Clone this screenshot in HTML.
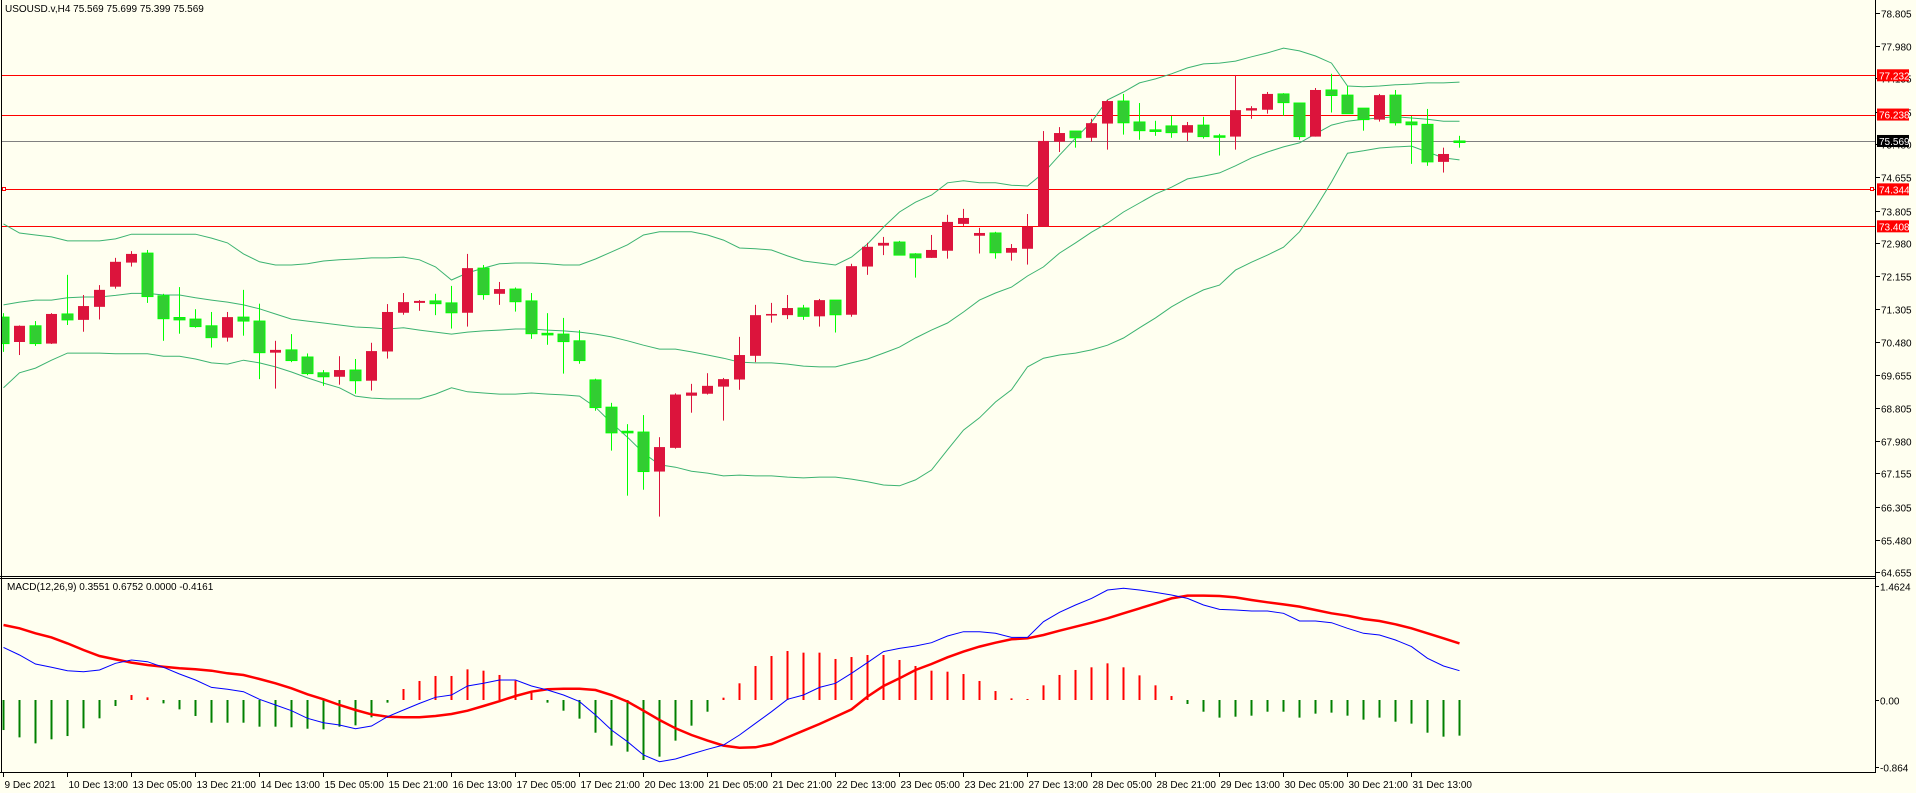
<!DOCTYPE html>
<html><head><meta charset="utf-8"><style>
html,body{margin:0;padding:0;background:#fffff0;}
svg{display:block;font-family:"Liberation Sans",sans-serif;}
</style></head><body>
<svg id="chart" width="1916" height="793" xmlns="http://www.w3.org/2000/svg">
<rect x="0" y="0" width="1916" height="793" fill="#fffff0"/>
<defs><clipPath id="mainClip"><rect x="2" y="0" width="1873" height="576"/></clipPath>
<clipPath id="macdClip"><rect x="2" y="578" width="1873" height="194"/></clipPath></defs>
<g id="mainPanel" clip-path="url(#mainClip)"></g>
<g id="macdPanel" clip-path="url(#macdClip)"></g>
<g id="axes"></g>
<text x="5" y="12" font-size="10" fill="#000">USOUSD.v,H4  75.569 75.699 75.399 75.569</text>
<text x="7" y="590" font-size="10" fill="#000">MACD(12,26,9) 0.3551 0.6752 0.0000 -0.4161</text>
</svg>
<script>
const opens=[71.11,70.48,70.89,70.44,71.19,71.04,71.37,71.88,72.49,72.73,71.65,71.10,71.06,70.89,70.59,71.11,71.01,70.21,70.28,70.10,69.70,69.60,69.77,69.50,70.24,71.22,71.47,71.52,71.47,71.22,72.35,71.70,71.82,71.52,70.70,70.68,70.51,69.52,68.83,68.22,68.20,67.20,67.80,69.12,69.17,69.35,69.53,70.13,71.15,71.16,71.34,71.13,71.54,71.17,72.39,72.92,73.01,72.71,72.61,72.79,73.47,73.17,73.24,72.74,72.84,73.40,75.55,75.82,75.65,76.01,76.58,76.05,75.85,75.95,75.78,75.97,75.70,75.68,76.34,76.36,76.76,76.53,75.68,76.86,76.73,76.40,76.11,76.73,76.05,75.99,75.04,75.569];
const highs=[71.21,70.90,71.01,71.21,72.18,71.67,71.92,72.61,72.78,72.81,71.70,71.87,71.31,71.24,71.24,71.80,71.45,70.51,70.68,70.19,69.77,70.12,70.05,70.46,71.44,71.72,71.54,71.70,71.90,72.71,72.43,72.00,71.86,71.72,71.21,71.09,70.78,69.55,68.94,68.40,68.63,68.07,69.18,69.42,69.69,69.57,70.61,71.42,71.47,71.67,71.42,71.57,71.54,72.46,72.99,73.14,73.04,72.73,73.19,73.70,73.85,73.37,73.27,72.96,73.72,75.82,75.92,75.82,76.13,76.61,76.76,76.53,76.08,76.20,76.05,76.18,75.75,77.24,76.45,76.81,76.78,76.53,76.91,77.27,76.96,76.40,76.76,76.86,76.20,76.38,75.40,75.699];
const lows=[70.23,70.15,70.38,70.43,70.91,70.74,71.05,71.83,72.39,71.47,70.51,70.69,70.84,70.34,70.49,70.64,69.54,69.30,69.97,69.64,69.37,69.40,69.17,69.25,70.06,71.17,71.27,71.16,70.82,70.87,71.55,71.42,71.25,70.56,70.41,69.68,69.93,68.74,67.73,66.59,66.74,66.06,67.78,68.69,69.15,68.49,69.27,69.97,70.97,71.06,71.04,70.87,70.72,71.12,72.18,72.68,72.67,72.11,72.61,72.59,73.42,72.72,72.59,72.54,72.44,73.40,75.29,75.40,75.55,75.35,75.73,75.60,75.70,75.65,75.57,75.63,75.20,75.35,76.13,76.26,76.21,75.60,75.68,76.29,76.26,75.83,76.06,75.96,74.99,74.94,74.77,75.399];
const closes=[70.44,70.89,70.44,71.19,71.04,71.39,71.80,72.51,72.71,71.63,71.07,71.04,70.87,70.59,71.11,71.01,70.21,70.28,70.01,69.68,69.60,69.77,69.50,70.25,71.24,71.49,71.52,71.45,71.22,72.35,71.68,71.82,71.50,70.69,70.66,70.49,70.01,68.82,68.18,68.18,67.20,67.82,69.15,69.20,69.37,69.54,70.15,71.16,71.19,71.34,71.13,71.54,71.17,72.40,72.89,72.99,72.68,72.61,72.81,73.52,73.62,73.24,72.74,72.86,73.40,75.57,75.77,75.65,76.02,76.58,76.03,75.83,75.81,75.78,75.97,75.68,75.68,76.35,76.40,76.76,76.54,75.68,76.86,76.72,76.26,76.11,76.73,76.03,75.98,75.04,75.24,75.569];
const bbUpper=[73.47,73.24,73.19,73.14,73.04,73.04,73.04,73.09,73.21,73.21,73.21,73.21,73.21,73.11,72.99,72.71,72.51,72.43,72.43,72.46,72.53,72.56,72.58,72.61,72.61,72.63,72.56,72.38,72.05,72.23,72.35,72.46,72.48,72.48,72.46,72.43,72.43,72.58,72.76,72.94,73.19,73.27,73.27,73.27,73.19,73.06,72.86,72.84,72.81,72.66,72.53,72.48,72.43,72.63,72.96,73.39,73.77,74.02,74.20,74.51,74.56,74.51,74.51,74.45,74.43,74.76,75.21,75.64,76.05,76.61,76.81,77.04,77.14,77.27,77.42,77.52,77.54,77.59,77.70,77.80,77.92,77.85,77.72,77.54,76.96,76.94,76.96,76.99,77.01,77.04,77.04,77.06];
const bbMiddle=[71.42,71.49,71.54,71.54,71.60,71.62,71.62,71.66,71.71,71.71,71.67,71.67,71.60,71.54,71.49,71.42,71.32,71.19,71.06,71.01,70.96,70.91,70.86,70.84,70.81,70.84,70.78,70.73,70.68,70.73,70.76,70.78,70.81,70.81,70.78,70.76,70.73,70.68,70.61,70.51,70.40,70.30,70.30,70.23,70.15,70.07,69.97,69.95,69.95,69.92,69.87,69.85,69.85,69.95,70.05,70.20,70.35,70.58,70.78,70.96,71.24,71.54,71.72,71.87,72.15,72.38,72.73,72.99,73.26,73.49,73.77,74.00,74.23,74.40,74.61,74.68,74.76,74.94,75.14,75.29,75.42,75.52,75.75,75.97,76.07,76.12,76.15,76.18,76.15,76.12,76.07,76.07];
const bbLower=[69.32,69.70,69.82,70.02,70.20,70.20,70.20,70.18,70.18,70.18,70.12,70.12,70.05,69.95,69.92,70.02,69.95,69.85,69.72,69.57,69.44,69.32,69.11,69.06,69.04,69.04,69.04,69.16,69.32,69.22,69.19,69.16,69.16,69.19,69.16,69.14,69.11,68.83,68.43,68.07,67.67,67.37,67.31,67.21,67.16,67.09,67.11,67.09,67.09,67.06,67.04,67.06,67.06,67.01,66.94,66.86,66.84,66.99,67.24,67.75,68.25,68.56,68.96,69.27,69.85,70.07,70.15,70.20,70.28,70.40,70.58,70.84,71.09,71.37,71.60,71.80,71.92,72.30,72.50,72.68,72.88,73.27,73.87,74.53,75.26,75.32,75.39,75.42,75.44,75.29,75.14,75.09];
const macdMain=[0.675,0.577,0.462,0.419,0.376,0.363,0.385,0.470,0.513,0.491,0.419,0.333,0.256,0.162,0.137,0.107,0.009,-0.064,-0.137,-0.235,-0.291,-0.321,-0.368,-0.333,-0.214,-0.128,-0.043,0.034,0.064,0.179,0.214,0.256,0.256,0.179,0.128,0.064,-0.021,-0.192,-0.385,-0.534,-0.705,-0.791,-0.756,-0.692,-0.632,-0.577,-0.449,-0.299,-0.150,0.009,0.064,0.162,0.214,0.342,0.479,0.620,0.662,0.692,0.735,0.821,0.876,0.876,0.855,0.803,0.803,1.004,1.124,1.218,1.303,1.410,1.432,1.410,1.380,1.346,1.303,1.218,1.162,1.154,1.141,1.141,1.111,1.013,1.013,0.991,0.919,0.855,0.833,0.769,0.684,0.534,0.436,0.376];
const macdSignal=[0.962,0.919,0.855,0.803,0.726,0.641,0.564,0.521,0.479,0.449,0.427,0.406,0.393,0.376,0.342,0.321,0.269,0.214,0.150,0.073,0.009,-0.064,-0.128,-0.184,-0.214,-0.222,-0.222,-0.205,-0.179,-0.137,-0.077,-0.015,0.051,0.107,0.137,0.145,0.145,0.128,0.064,-0.021,-0.137,-0.256,-0.363,-0.449,-0.521,-0.585,-0.611,-0.607,-0.564,-0.479,-0.393,-0.308,-0.214,-0.120,0.043,0.179,0.278,0.385,0.462,0.547,0.620,0.684,0.735,0.778,0.791,0.833,0.889,0.940,0.991,1.047,1.111,1.175,1.239,1.303,1.338,1.338,1.333,1.316,1.282,1.252,1.226,1.197,1.154,1.111,1.081,1.038,1.013,0.970,0.919,0.855,0.791,0.726];
const macdHist=[-0.385,-0.479,-0.556,-0.504,-0.462,-0.363,-0.235,-0.077,0.064,0.034,-0.043,-0.120,-0.205,-0.291,-0.291,-0.291,-0.342,-0.342,-0.350,-0.368,-0.376,-0.342,-0.325,-0.222,-0.034,0.141,0.244,0.308,0.308,0.393,0.376,0.321,0.248,0.094,-0.034,-0.137,-0.239,-0.419,-0.585,-0.662,-0.769,-0.726,-0.521,-0.329,-0.150,0.030,0.214,0.436,0.564,0.628,0.607,0.607,0.526,0.551,0.577,0.577,0.513,0.436,0.376,0.363,0.333,0.244,0.115,0.021,0.013,0.188,0.321,0.385,0.419,0.470,0.419,0.316,0.188,0.051,-0.051,-0.150,-0.226,-0.214,-0.201,-0.150,-0.150,-0.226,-0.175,-0.162,-0.201,-0.252,-0.226,-0.278,-0.303,-0.419,-0.470,-0.457];
const levelPrices=[77.232,76.238,74.344,73.408];
const levelLabels=["77.232","76.238","74.344","73.408"];
const bidPrice=75.569;
const bidLabel="75.569";
const priceTicks=["78.805","77.980","77.155","76.305","75.480","74.655","73.805","72.980","72.155","71.305","70.480","69.655","68.805","67.980","67.155","66.305","65.480","64.655"];
const macdTicks=["1.4624","0.00","-0.864"];
const timeLabels=["9 Dec 2021","10 Dec 13:00","13 Dec 05:00","13 Dec 21:00","14 Dec 13:00","15 Dec 05:00","15 Dec 21:00","16 Dec 13:00","17 Dec 05:00","17 Dec 21:00","20 Dec 13:00","21 Dec 05:00","21 Dec 21:00","22 Dec 13:00","23 Dec 05:00","23 Dec 21:00","27 Dec 13:00","28 Dec 05:00","28 Dec 21:00","29 Dec 13:00","30 Dec 05:00","30 Dec 21:00","31 Dec 13:00"];

const NS="http://www.w3.org/2000/svg";
function xAt(i){return 3+16*i;}
function yPrice(p){return (79.138-p)/0.025316;}
function yMacd(v){return 700-v*78;}
function mk(tag,attrs,parent){const e=document.createElementNS(NS,tag);for(const k in attrs)e.setAttribute(k,attrs[k]);parent.appendChild(e);return e;}
const main=document.getElementById('mainPanel');
const macd=document.getElementById('macdPanel');
const axes=document.getElementById('axes');

levelPrices.forEach((p,k)=>{
  const y=Math.round(yPrice(p))+0.5;
  const l=mk('line',{x1:0,x2:1875,y1:y,y2:y,stroke:'#ff0000','stroke-width':1},main);
  
  
});
{
  const y=Math.round(yPrice(bidPrice))+0.5;
  const l=mk('line',{x1:0,x2:1875,y1:y,y2:y,stroke:'#808080','stroke-width':1},main);
  
  
}
function poly(arr,fy,color,w,parent,name){
  const pts=arr.map((v,i)=>(xAt(i)+0.5)+','+fy(v).toFixed(1)).join(' ');
  const e=mk('polyline',{points:pts,fill:'none',stroke:color,'stroke-width':w},parent);
  
  
}
poly(bbUpper,yPrice,'#3cb371',1,main,'bollinger-upper');
poly(bbMiddle,yPrice,'#3cb371',1,main,'bollinger-middle');
poly(bbLower,yPrice,'#3cb371',1,main,'bollinger-lower');
opens.forEach((o,i)=>{
  const c=closes[i],h=highs[i],lo=lows[i];
  const up=c>o;
  const col=up?'#dc143c':'#00ff00';
  const cx=xAt(i);
  const w=mk('rect',{x:cx,y:yPrice(h),width:1,height:Math.max(1,yPrice(lo)-yPrice(h)),fill:col},main);
  
  
  const top=yPrice(Math.max(o,c)),bot=yPrice(Math.min(o,c));
  const b=mk('rect',{x:cx-5,y:top,width:11,height:Math.max(1.5,bot-top),fill:up?'#dc143c':'#32cd32',stroke:up?'none':'#00ff00','stroke-width':up?0:1},main);
  
  
});
{
  const y=Math.round(yPrice(74.344));
  const m1=mk('rect',{x:1870.5,y:y-1.5,width:3,height:3,fill:'#fff',stroke:'#ff0000'},axes);
  
  
  const m2=mk('rect',{x:2.5,y:y-1.5,width:3,height:3,fill:'#fff',stroke:'#ff0000'},axes);
  
  
}
macdHist.forEach((v,i)=>{
  const y0=yMacd(0),y1=yMacd(v);
  const r=mk('rect',{x:xAt(i)-0.5,y:Math.min(y0,y1),width:2,height:Math.max(1,Math.abs(y1-y0)),fill:v>=0?'#ff0000':'#008000'},macd);
  
  
});
poly(macdSignal,yMacd,'#ff0000',2.5,macd,'macd-signal-line');
poly(macdMain,yMacd,'#0000ff',1,macd,'macd-main-line');

[['line',{x1:1.5,x2:1.5,y1:0,y2:772}],['line',{x1:1875.5,x2:1875.5,y1:0,y2:773}],
 ['line',{x1:0,x2:1876,y1:576.5,y2:576.5}],['line',{x1:0,x2:1876,y1:578.5,y2:578.5}],
 ['line',{x1:0,x2:1876,y1:772.5,y2:772.5}]].forEach((d,k)=>{
  const e=mk(d[0],Object.assign({stroke:'#000','stroke-width':1},d[1]),axes);
  
  
});
priceTicks.forEach(t=>{
  const y=Math.round(yPrice(parseFloat(t)))+0.5;
  const tk=mk('line',{x1:1876,x2:1880,y1:y,y2:y,stroke:'#000'},axes);
  
  
  const tx=mk('text',{x:1881,y:y+4,'font-size':10,fill:'#000'},axes);
  tx.textContent=t;
  
  
});
function tag(p,label,bg,name){
  const y=yPrice(p);
  const r=mk('rect',{x:1877,y:y-6,width:32,height:12,fill:bg},axes);
  
  
  const t=mk('text',{x:1879,y:y+4,'font-size':10,fill:'#fff'},axes);
  t.textContent=label;
  
  
}
levelPrices.forEach((p,k)=>tag(p,levelLabels[k],'#ff0000','level-label-'+levelLabels[k]));
tag(bidPrice,bidLabel,'#000000','bid-price-label');
macdTicks.forEach(t=>{
  const y=Math.round(yMacd(parseFloat(t)))+0.5;
  const tk=mk('line',{x1:1876,x2:1879,y1:y,y2:y,stroke:'#000'},axes);
  
  
  const tx=mk('text',{x:1880,y:y+4,'font-size':10,fill:'#000'},axes);
  tx.textContent=t;
  
  
});
timeLabels.forEach((t,k)=>{
  const x=xAt(k*4)+0.5;
  const tk=mk('line',{x1:x,x2:x,y1:773,y2:777,stroke:'#000'},axes);
  
  
  const tx=mk('text',{x:x+1,y:788,'font-size':10,fill:'#000'},axes);
  tx.textContent=t;
  
  
});
</script>
</body></html>
